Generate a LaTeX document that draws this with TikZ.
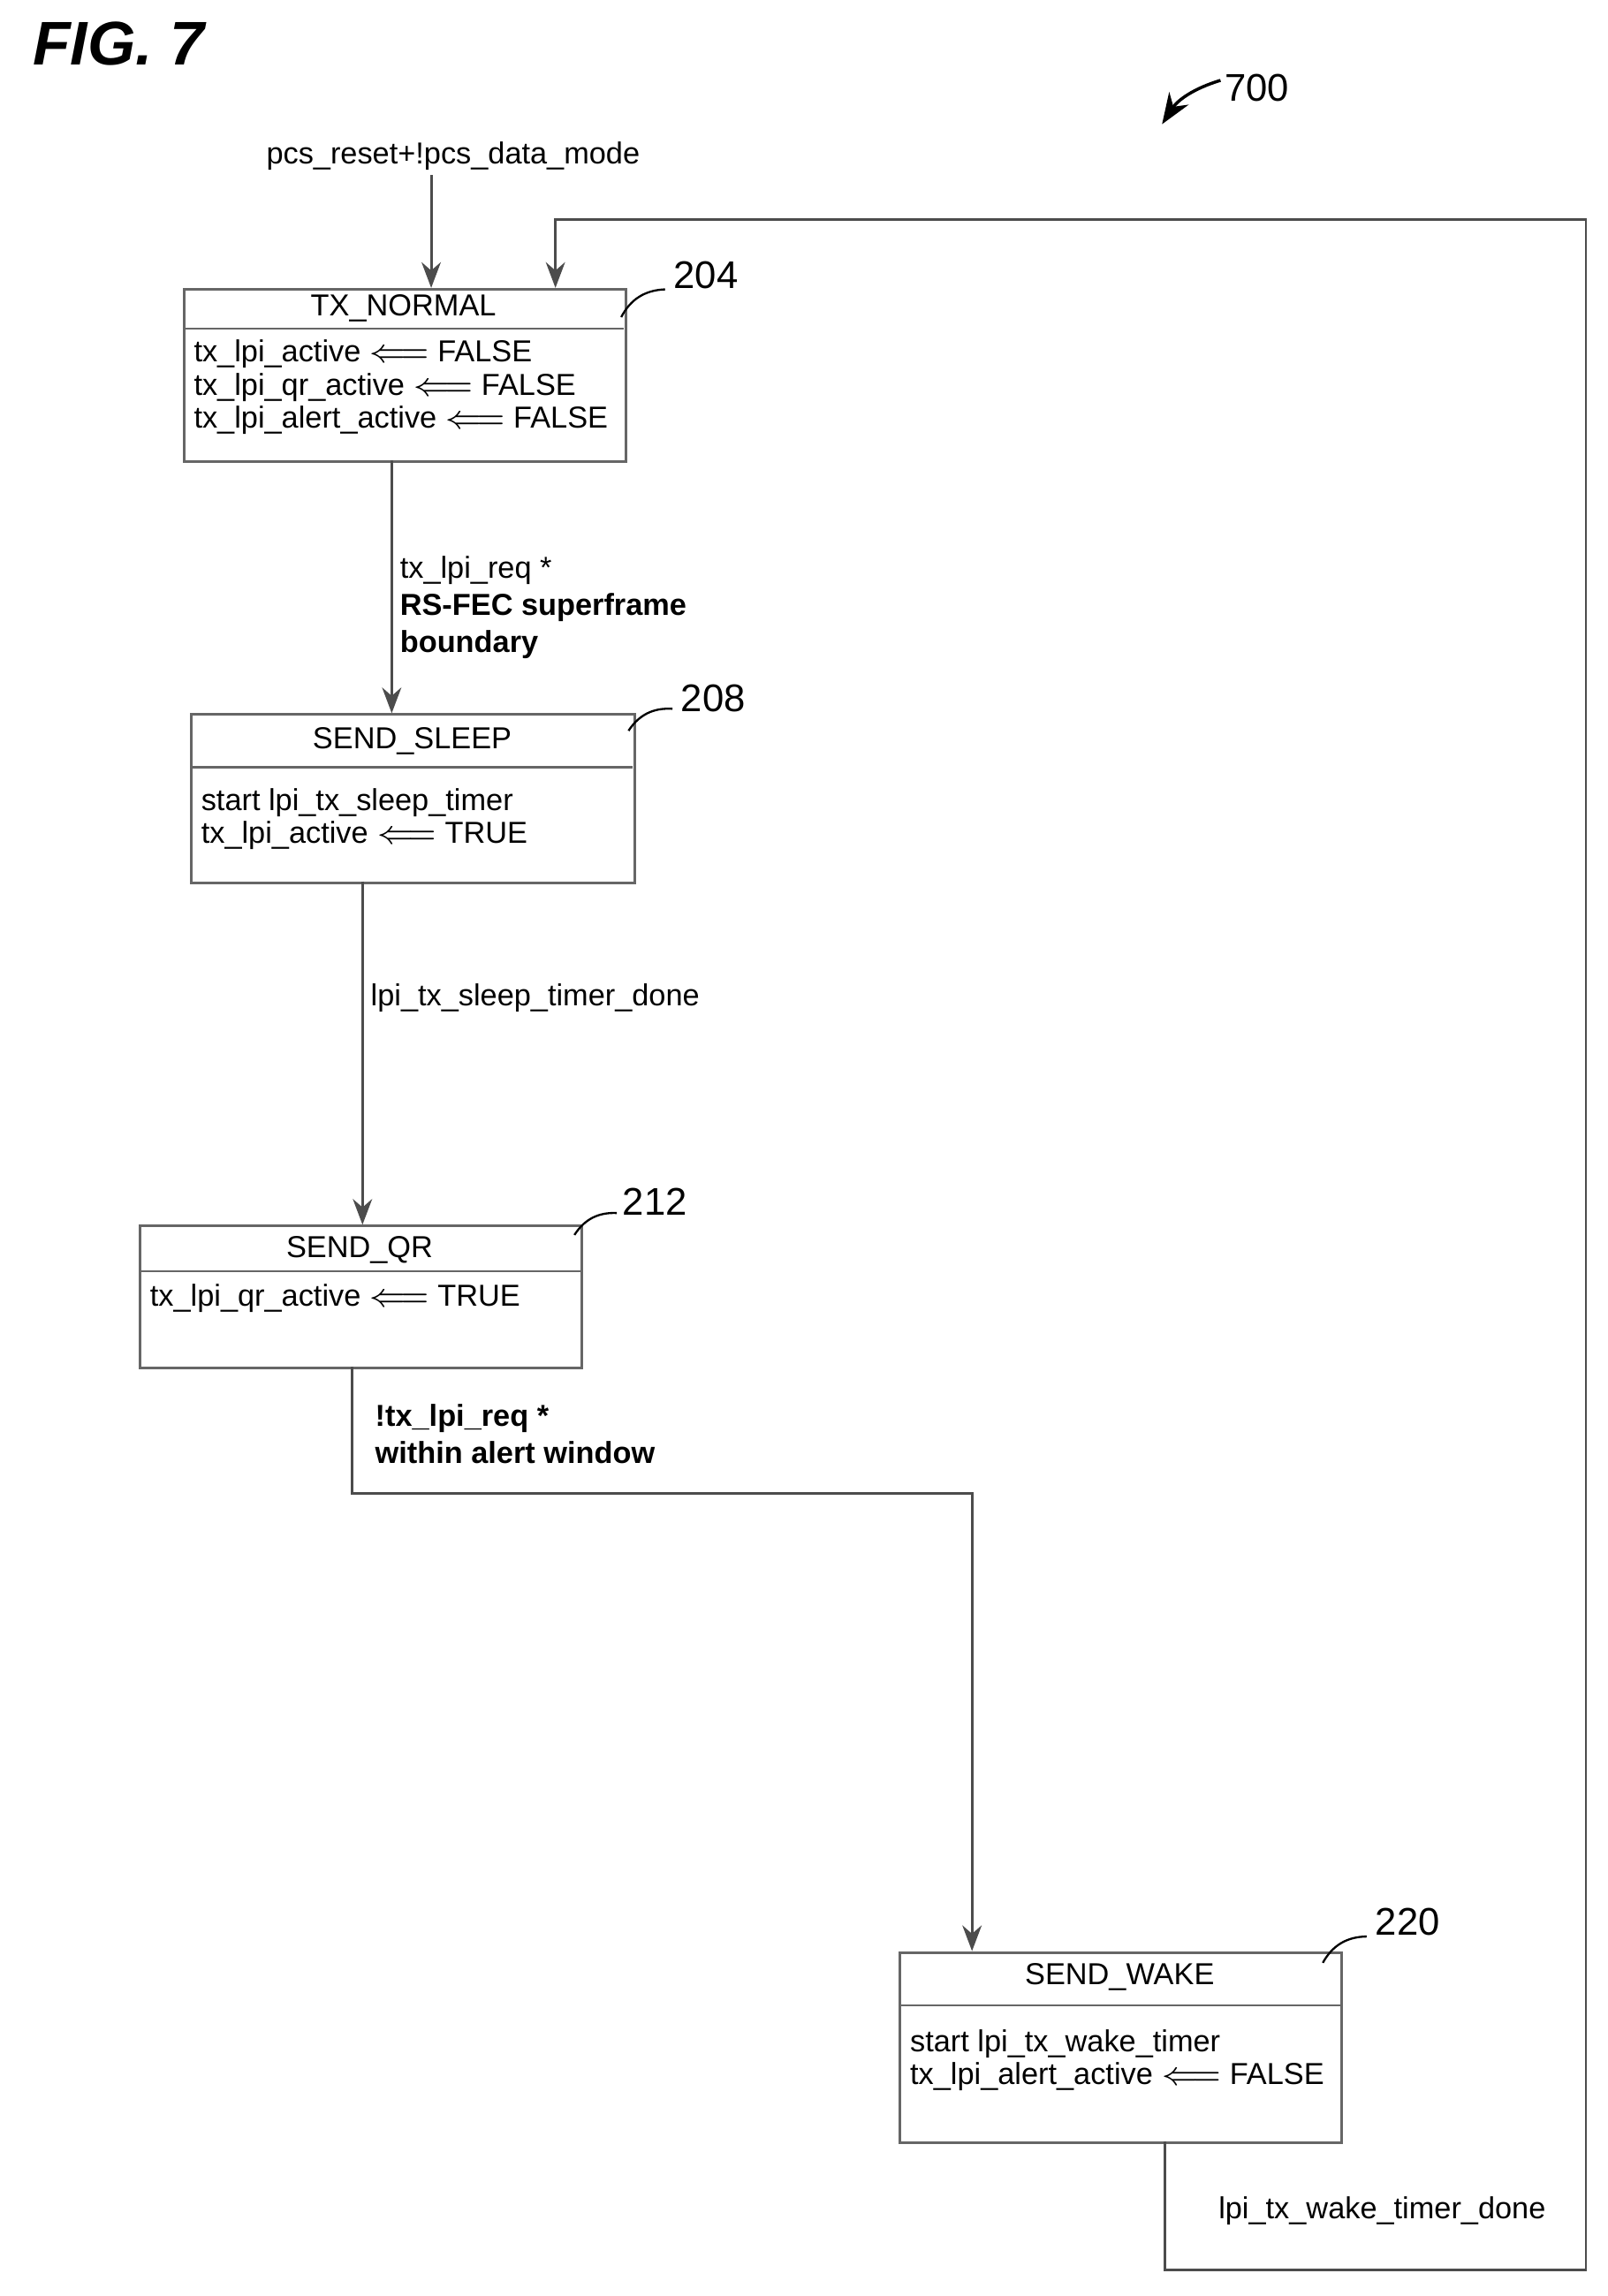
\documentclass[tikz,border=0pt]{standalone}
\usepackage{fontspec}
\setmainfont{Liberation Sans}
\usetikzlibrary{positioning,arrows.meta}
\begin{document}
\begin{tikzpicture}[x=0.01cm,y=-0.01cm,
	state/.style={draw=black!60,line width=0.5pt,anchor=north west,inner sep=0pt},
	body/.style={anchor=north west,font=\fontsize{5.9}{6.4}\selectfont,align=left,inner sep=0pt},
	lab/.style={anchor=west,font=\fontsize{5.9}{7.2}\selectfont,align=left,inner sep=0pt},
	ref/.style={font=\fontsize{7.5}{8}\selectfont},
	flow/.style={draw=black!70,line width=0.5pt,-{Stealth[length=5pt]}}]
	\useasboundingbox (0,0) rectangle (1100,1571);
	\node[anchor=west,font=\bfseries\itshape\fontsize{12}{12}\selectfont] at (10,30) {FIG. 7};
	\node[ref] (n700) at (860,60) {700};
	\draw[-{Stealth[length=6pt]},line width=0.6pt] (835,55) to[bend right=20] (795,85);
	% states
	\node[state,minimum width=3.02cm,minimum height=1.18cm] (txn) at (125,197) {};
	\draw[black!60] (125,225) -- (427,225);
	\node[lab] at (276,211) [anchor=center] {TX\_NORMAL};
	\node[body] at (132,232) {tx\_lpi\_active $\Longleftarrow$ FALSE\\tx\_lpi\_qr\_active $\Longleftarrow$ FALSE\\tx\_lpi\_alert\_active $\Longleftarrow$ FALSE};
	\node[state,minimum width=3.03cm,minimum height=1.15cm] (sleep) at (130,488) {};
	\draw[black!60] (130,525) -- (433,525);
	\node[lab] at (282,507) [anchor=center] {SEND\_SLEEP};
	\node[body] at (137,539) {start lpi\_tx\_sleep\_timer\\tx\_lpi\_active $\Longleftarrow$ TRUE};
	\node[state,minimum width=3.02cm,minimum height=0.97cm] (qr) at (95,838) {};
	\draw[black!60] (95,870) -- (397,870);
	\node[lab] at (246,855) [anchor=center] {SEND\_QR};
	\node[body] at (102,878) {tx\_lpi\_qr\_active $\Longleftarrow$ TRUE};
	\node[state,minimum width=3.02cm,minimum height=1.30cm] (wake) at (615,1335) {};
	\draw[black!60] (615,1372) -- (917,1372);
	\node[lab] at (766,1353) [anchor=center] {SEND\_WAKE};
	\node[body] at (622,1388) {start lpi\_tx\_wake\_timer\\tx\_lpi\_alert\_active $\Longleftarrow$ FALSE};
	% reference numerals
	\node[ref] (r204) at (483,188) {204};
	\draw (425,217) to[bend left=30] (455,198);
	\node[ref] (r208) at (488,478) {208};
	\draw (430,500) to[bend left=30] (460,485);
	\node[ref] (r212) at (448,822) {212};
	\draw (393,845) to[bend left=30] (422,830);
	\node[ref] (r220) at (963,1315) {220};
	\draw (905,1343) to[bend left=30] (935,1325);
	% transitions
	\node[lab,anchor=center] (init) at (310,107) {pcs\_reset+!pcs\_data\_mode};
	\draw[flow] (295,120) -- (295,197);
	\draw[flow] (268,315) -- (268,488);
	\node[lab,anchor=north west] (t1) at (273,380) {tx\_lpi\_req *\\\textbf{RS-FEC superframe}\\\textbf{boundary}};
	\draw[flow] (248,603) -- (248,838);
	\node[lab] (t2) at (253,683) {lpi\_tx\_sleep\_timer\_done};
	\coordinate (q1) at (241,1022);
	\coordinate (q2) at (665,1022);
	\draw[flow] (241,935) -- (q1) -- (q2) -- (665,1335);
	\node[lab,anchor=north west] (t3) at (256,960) {\textbf{!tx\_lpi\_req *}\\\textbf{within alert window}};
	\coordinate (w1) at (797,1553);
	\coordinate (w2) at (1085,1553);
	\coordinate (w3) at (1085,150);
	\coordinate (w4) at (380,150);
	\draw[flow] (797,1465) -- (w1) -- (w2) -- (w3) -- (w4) -- (380,197);
	\node[lab] (t4) at (833,1513) {lpi\_tx\_wake\_timer\_done};
\end{tikzpicture}
\end{document}
